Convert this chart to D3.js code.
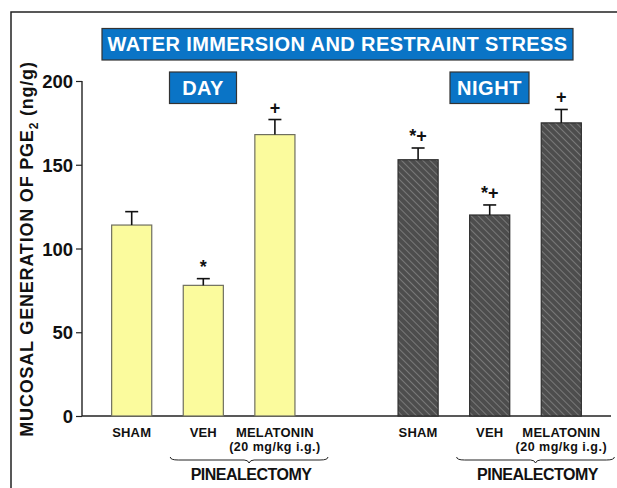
<!DOCTYPE html>
<html>
<head>
<meta charset="utf-8">
<script src="https://cdn.jsdelivr.net/npm/d3@7"></script>
<style>
  body { margin: 0; background: #fff; }
  svg text { font-family: "Liberation Sans", Arial, sans-serif; font-weight: bold; }
</style>
</head>
<body>
<svg id="chart" width="617" height="488"></svg>
<script>
// chart values
const groups = ["DAY", "NIGHT"];
const treatments = ["SHAM", "VEH", "MELATONIN"];
const dayMeans = [114, 78, 168];
const daySem = [8, 4, 9];
const nightMeans = [153, 120, 175];
const nightSem = [7, 6, 8];
const dayMarks = ["", "*", "+"];
const nightMarks = ["*+", "*+", "+"];
const yTicks = [0, 50, 100, 150, 200];
const slots = ["D0", "D1", "D2", "gap", "N0", "N1", "N2"];

const svg = d3.select("#chart");

// outer frame (bottom/right cut off)
svg.append("rect")
    .attr("x", 11).attr("y", 12)
    .attr("width", 640).attr("height", 520)
    .attr("fill", "none").attr("stroke", "#222").attr("stroke-width", 1.5);

// hatch pattern for night bars
const defs = svg.append("defs");
const pat = defs.append("pattern")
    .attr("id", "hatch")
    .attr("patternUnits", "userSpaceOnUse")
    .attr("width", 5).attr("height", 5)
    .attr("patternTransform", "rotate(-45)");
pat.append("rect").attr("width", 5).attr("height", 5).attr("fill", "#4d4d4d");
pat.append("line")
    .attr("x1", 0).attr("y1", 0).attr("x2", 0).attr("y2", 5)
    .attr("stroke", "#8c8c8c").attr("stroke-width", 1.4);

// scales
const x = d3.scaleBand()
    .domain(slots)
    .range([95.9, 597.1])
    .paddingInner(0.44)
    .paddingOuter(0.22);
const y = d3.scaleLinear().domain([0, 200]).range([416, 81]);

// rows of data
const rows = [];
treatments.forEach((t, i) => {
    rows.push({ slot: "D" + i, name: t, mean: dayMeans[i], sem: daySem[i], mark: dayMarks[i], night: false });
});
treatments.forEach((t, i) => {
    rows.push({ slot: "N" + i, name: t, mean: nightMeans[i], sem: nightSem[i], mark: nightMarks[i], night: true });
});

// y axis with minor ticks
const yAxis = svg.append("g").attr("transform", "translate(82,0)");
yAxis.call(d3.axisLeft(y).tickValues(d3.range(0, 201, 10)).tickSize(3.5).tickFormat(""));
yAxis.call(d3.axisLeft(y).tickValues(yTicks).tickSize(6).tickFormat(d3.format("d")));
yAxis.selectAll(".domain").remove();
yAxis.selectAll("line").attr("stroke", "#222").attr("stroke-width", 1.2);
yAxis.selectAll("text")
    .attr("font-size", 18.5).attr("fill", "#111").attr("x", -9).attr("dy", "0.36em");
yAxis.append("line").attr("x1", 0).attr("x2", 0).attr("y1", y(0)).attr("y2", y(200))
    .attr("stroke", "#222").attr("stroke-width", 1.4);

// x baseline
svg.append("line")
    .attr("x1", 82).attr("x2", 611).attr("y1", y(0)).attr("y2", y(0))
    .attr("stroke", "#222").attr("stroke-width", 1.4);

// bars
svg.append("g").selectAll("rect")
    .data(rows).enter().append("rect")
    .attr("x", d => x(d.slot))
    .attr("y", d => y(d.mean))
    .attr("width", x.bandwidth())
    .attr("height", d => y(0) - y(d.mean))
    .attr("fill", d => d.night ? "url(#hatch)" : "#fbfb9d")
    .attr("stroke", d => d.night ? "#2e2e2e" : "#6f6f5f")
    .attr("stroke-width", 1.2);

// error bars
const err = svg.append("g").attr("stroke", "#111").attr("stroke-width", 1.6);
rows.forEach(d => {
    const cx = x(d.slot) + x.bandwidth() / 2;
    err.append("line").attr("x1", cx).attr("x2", cx).attr("y1", y(d.mean)).attr("y2", y(d.mean + d.sem));
    err.append("line").attr("x1", cx - 6.5).attr("x2", cx + 6.5).attr("y1", y(d.mean + d.sem)).attr("y2", y(d.mean + d.sem));
});

// significance marks
svg.append("g").selectAll("text")
    .data(rows.filter(d => d.mark)).enter().append("text")
    .attr("x", d => x(d.slot) + x.bandwidth() / 2)
    .attr("y", d => y(d.mean + d.sem) - 6)
    .attr("text-anchor", "middle")
    .attr("font-size", 18)
    .attr("fill", "#111")
    .text(d => d.mark);

// category labels
const lab = svg.append("g").attr("fill", "#111").attr("text-anchor", "middle");
rows.forEach(d => {
    const cx = x(d.slot) + x.bandwidth() / 2;
    lab.append("text").attr("x", cx).attr("y", 437)
        .attr("font-size", 13).attr("letter-spacing", 0.2).text(d.name);
    if (d.name === "MELATONIN") {
        lab.append("text").attr("x", cx).attr("y", 451)
            .attr("font-size", 12.5).attr("letter-spacing", 0.5)
            .text("(20 mg/kg i.g.)");
    }
});

// braces with PINEALECTOMY
function brace(x1, x2, yy) {
    const m = (x1 + x2) / 2;
    const p = d3.path();
    p.moveTo(x1, yy - 3);
    p.quadraticCurveTo(x1, yy, x1 + 8, yy);
    p.lineTo(m - 5, yy);
    p.quadraticCurveTo(m - 1, yy, m, yy + 3);
    p.quadraticCurveTo(m + 1, yy, m + 5, yy);
    p.lineTo(x2 - 8, yy);
    p.quadraticCurveTo(x2, yy, x2, yy - 3);
    return p.toString();
}
[["D1", "D2"], ["N1", "N2"]].forEach(([a, b]) => {
    const x1 = x(a) - 13, x2 = x(b) + x.bandwidth() + 33;
    svg.append("path").attr("d", brace(x1, x2, 460))
        .attr("fill", "none").attr("stroke", "#222").attr("stroke-width", 1);
    svg.append("text").attr("x", (x1 + x2) / 2 + 2).attr("y", 480)
        .attr("text-anchor", "middle").attr("font-size", 16).attr("letter-spacing", -0.5)
        .attr("fill", "#111").text("PINEALECTOMY");
});

// y axis title
svg.append("text")
    .attr("transform", "translate(33,249) rotate(-90)")
    .attr("text-anchor", "middle")
    .attr("font-size", 18)
    .attr("letter-spacing", 0.8)
    .attr("fill", "#111")
    .call(t => {
        t.append("tspan").text("MUCOSAL GENERATION OF PGE");
        t.append("tspan").attr("font-size", 12).attr("dy", 5).text("2");
        t.append("tspan").attr("dy", -5).text(" (ng/g)");
    });

// title boxes
function box(x0, y0, w, h, label, fs, ls) {
    svg.append("rect").attr("x", x0).attr("y", y0).attr("width", w).attr("height", h)
        .attr("fill", "#0a74c6").attr("stroke", "#333").attr("stroke-width", 1.2);
    svg.append("text").attr("x", x0 + w / 2).attr("y", y0 + h / 2).attr("dy", "0.36em")
        .attr("text-anchor", "middle").attr("font-size", fs).attr("letter-spacing", ls)
        .attr("fill", "#fff").text(label);
}
box(102, 28.5, 471, 31.5, "WATER IMMERSION AND RESTRAINT STRESS", 20, 0.4);
box(169.5, 72, 67, 31.5, groups[0], 20, 0.3);
box(450, 72, 79, 31.5, groups[1], 20, 0.6);
</script>
</body>
</html>
